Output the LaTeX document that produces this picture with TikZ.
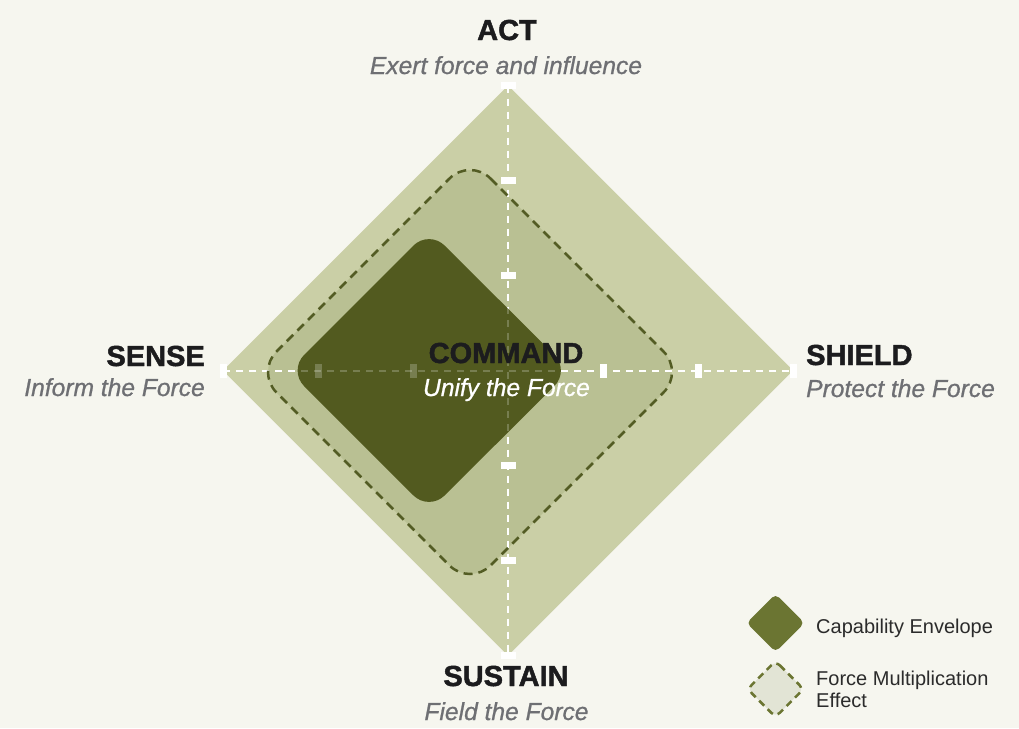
\documentclass[tikz,border=0pt]{standalone}
\usepackage{fontspec}
\setmainfont{Liberation Sans}
\newfontfamily\heavyfont[FakeBold=1.6]{Liberation Sans Bold}
\newfontfamily\subfont[FakeBold=0.8]{Liberation Sans Italic}
\definecolor{bgc}{HTML}{F6F6EF}
\definecolor{outerc}{HTML}{CACFA6}
\definecolor{midc}{HTML}{B9C093}
\definecolor{darkc}{HTML}{525A1F}
\definecolor{dashc}{HTML}{535C24}
\definecolor{legdark}{HTML}{6B7532}
\definecolor{leglight}{HTML}{E2E4D5}
\definecolor{titlec}{HTML}{1C1C1E}
\definecolor{subc}{HTML}{6E6F73}
\definecolor{legtext}{HTML}{2B2B2B}
\begin{document}
\begin{tikzpicture}[x=1pt,y=-1pt,
  titletext/.style={font=\fontsize{29}{29}\selectfont\heavyfont, text=titlec, inner sep=0pt},
  subtext/.style={font=\fontsize{24.6}{24.6}\selectfont\subfont, text=subc, inner sep=0pt},
  axisline/.style={white, line width=2pt, dash pattern=on 7pt off 6pt},
  htick/.style={fill=white, draw=none, minimum width=7pt, minimum height=14pt, inner sep=0pt},
  vtick/.style={fill=white, draw=none, minimum width=15pt, minimum height=7pt, inner sep=0pt},
  dashborder/.style={draw=dashc, line width=2.5pt, dash pattern=on 9pt off 6pt},
  legtxt/.style={font=\fontsize{20}{22}\selectfont, text=legtext, inner sep=0pt}
]
\useasboundingbox (0,0) rectangle (1019,728);
\fill[bgc] (0,0) rectangle (1019,728);

% outer diamond
\coordinate (T) at (508,85.5);
\coordinate (R) at (793,370.5);
\coordinate (B) at (508,655.5);
\coordinate (L) at (223,370.5);
\fill[outerc] (T) -- (R) -- (B) -- (L) -- cycle;

% force multiplication fill
\fill[midc, rounded corners=29pt] (470,158) -- (684,372) -- (470,586) -- (256,372) -- cycle;

% axes
\draw[axisline] (L) -- (R);
\draw[axisline] (T) -- (B);
\foreach \d in {95,190,285} {
  \node[htick] at (508+\d,370.5) {};
  \node[htick] at (508-\d,370.5) {};
  \node[vtick] at (508,370.5+\d) {};
  \node[vtick] at (508,370.5-\d) {};
}

% dashed border
\draw[dashborder, rounded corners=29pt] (470,158) -- (684,372) -- (470,586) -- (256,372) -- cycle;

% capability envelope
\fill[darkc, rounded corners=22pt] (429,230) -- (570,370.5) -- (429,511) -- (288.5,370.5) -- cycle;
\begin{scope}
  \clip[rounded corners=22pt] (429,230) -- (570,370.5) -- (429,511) -- (288.5,370.5) -- cycle;
  \begin{scope}[opacity=0.22]
    \draw[axisline] (L) -- (R);
    \draw[axisline] (T) -- (B);
    \foreach \d in {95,190} {
      \node[htick] at (508-\d,370.5) {};
      \node[vtick] at (508,370.5-\d) {};
      \node[vtick] at (508,370.5+\d) {};
    }
  \end{scope}
\end{scope}

% labels
\node[titletext, anchor=base] (act) at (507,40) {ACT};
\node[subtext, anchor=base] (actsub) at (506,74) {Exert force and influence};
\node[titletext, anchor=base east] (sense) at (205,366) {SENSE};
\node[subtext, anchor=base east] (sensesub) at (205,396) {Inform the Force};
\node[titletext, anchor=base west] (shield) at (806,365) {SHIELD};
\node[subtext, anchor=base west] (shieldsub) at (806,397) {Protect the Force};
\node[titletext, anchor=base] (command) at (506,363) {COMMAND};
\node[subtext, anchor=base, text=white] (commandsub) at (506.5,396) {Unify the Force};
\node[titletext, anchor=base] (sustain) at (506,686) {SUSTAIN};
\node[subtext, anchor=base] (sustainsub) at (506.5,720) {Field the Force};

% legend
\fill[legdark, rounded corners=5pt] (775.5,594) -- (804.5,623) -- (775.5,652) -- (746.5,623) -- cycle;
\filldraw[fill=leglight, draw=legdark, line width=2.5pt, dash pattern=on 7pt off 5pt, rounded corners=6pt] (775.5,661) -- (803.5,689) -- (775.5,717) -- (747.5,689) -- cycle;
\node[legtxt, anchor=base west] (leg1) at (816,633) {Capability Envelope};
\node[legtxt, anchor=base west] (leg2) at (816,685) {Force Multiplication};
\node[legtxt, anchor=base west] (leg3) at (816,707) {Effect};
\end{tikzpicture}
\end{document}
